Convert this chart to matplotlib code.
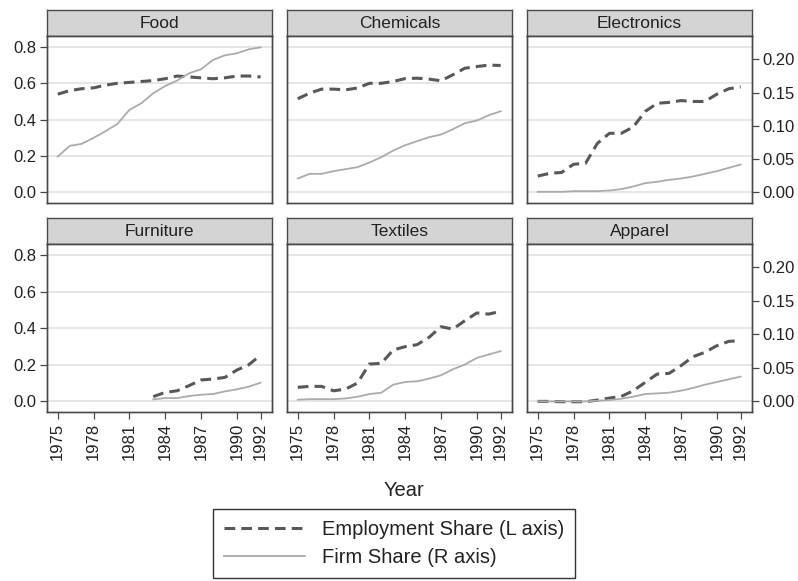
import numpy as np
import matplotlib
matplotlib.use("Agg")
import matplotlib.pyplot as plt

plt.rcParams['font.family'] = ['Liberation Sans', 'DejaVu Sans']

years = list(range(1975, 1993))
nan = np.nan

industries = ["Food", "Chemicals", "Electronics", "Furniture", "Textiles", "Apparel"]

# employment share (left axis)
food_emp = [0.54, 0.56, 0.57, 0.575, 0.59, 0.60, 0.605, 0.61, 0.615, 0.625, 0.64, 0.635, 0.63, 0.625, 0.63, 0.64, 0.64, 0.635]
chem_emp = [0.515, 0.546, 0.568, 0.568, 0.564, 0.574, 0.60, 0.60, 0.61, 0.626, 0.628, 0.623, 0.614, 0.647, 0.683, 0.692, 0.70, 0.698]
elec_emp = [0.09, 0.105, 0.11, 0.155, 0.16, 0.27, 0.325, 0.325, 0.36, 0.445, 0.49, 0.495, 0.505, 0.50, 0.50, 0.54, 0.57, 0.58]
furn_emp = [nan] * 8 + [0.026, 0.049, 0.058, 0.086, 0.117, 0.122, 0.131, 0.171, 0.20, 0.253]
text_emp = [0.077, 0.082, 0.082, 0.058, 0.067, 0.10, 0.204, 0.208, 0.281, 0.299, 0.31, 0.35, 0.408, 0.395, 0.441, 0.483, 0.477, 0.492]
app_emp = [0.0, 0.0, -0.002, -0.002, -0.002, 0.007, 0.018, 0.027, 0.058, 0.104, 0.149, 0.153, 0.195, 0.244, 0.268, 0.304, 0.328, 0.332]

# firm share (right axis)
food_firm = [0.054, 0.070, 0.073, 0.082, 0.092, 0.103, 0.124, 0.134, 0.149, 0.160, 0.168, 0.179, 0.185, 0.199, 0.206, 0.209, 0.215, 0.218]
chem_firm = [0.021, 0.028, 0.028, 0.032, 0.035, 0.038, 0.045, 0.053, 0.063, 0.071, 0.077, 0.083, 0.087, 0.095, 0.104, 0.108, 0.116, 0.122]
elec_firm = [0.001, 0.001, 0.001, 0.002, 0.002, 0.002, 0.003, 0.005, 0.009, 0.014, 0.016, 0.019, 0.021, 0.024, 0.028, 0.032, 0.037, 0.042]
furn_firm = [nan] * 8 + [0.003, 0.005, 0.005, 0.008, 0.010, 0.011, 0.015, 0.018, 0.022, 0.028]
text_firm = [0.0025, 0.0034, 0.0034, 0.0034, 0.0044, 0.0069, 0.011, 0.013, 0.025, 0.029, 0.030, 0.034, 0.039, 0.048, 0.055, 0.065, 0.070, 0.075]
app_firm = [0.0, 0.0, 0.0, 0.0, 0.0, 0.001, 0.002, 0.004, 0.007, 0.011, 0.012, 0.013, 0.016, 0.020, 0.025, 0.029, 0.033, 0.037]

emp_series = [food_emp, chem_emp, elec_emp, furn_emp, text_emp, app_emp]
firm_series = [food_firm, chem_firm, elec_firm, furn_firm, text_firm, app_firm]

x_ticks = [1975, 1978, 1981, 1984, 1987, 1990, 1992]
left_ticks = [0.0, 0.2, 0.4, 0.6, 0.8]
right_ticks = [0.00, 0.05, 0.10, 0.15, 0.20]

W, H = 798, 581
fig = plt.figure(figsize=(W / 100, H / 100), dpi=100)

edge = "#4a4a4a"
emp_color = "#585858"
firm_color = "#ababab"

col_x = [47, 287, 527]
panel_w = 225
# (strip top, plot top, plot bottom) in pixels
row_y = [(10, 36, 203), (218, 244, 412)]


def px_box(x0, y0, x1, y1):
    return [x0 / W, 1 - y1 / H, (x1 - x0) / W, (y1 - y0) / H]


for i, name in enumerate(industries):
    r, c = divmod(i, 3)
    st, top, bot = row_y[r]
    x0 = col_x[c]

    # strip title
    sax = fig.add_axes(px_box(x0, st, x0 + panel_w, top))
    sax.set_facecolor("#d4d4d4")
    sax.set_xticks([])
    sax.set_yticks([])
    for s in sax.spines.values():
        s.set_color(edge)
        s.set_linewidth(1.0)
    sax.text(0.5, 0.47, name, ha="center", va="center", fontsize=12.5, color="#222222")

    ax = fig.add_axes(px_box(x0, top, x0 + panel_w, bot))
    ax2 = ax.twinx()

    ax.plot(years, emp_series[i], color=emp_color, lw=2.2, linestyle=(0, (3.5, 2.0)),
            label="Employment Share (L axis)")
    ax2.plot(years, firm_series[i], color=firm_color, lw=1.3, label="Firm Share (R axis)")

    ax.set_xlim(1974.1, 1992.95)
    ax.set_ylim(-0.058, 0.86)
    ax2.set_ylim(-0.0158, 0.235)

    ax.set_yticks(left_ticks)
    ax2.set_yticks(right_ticks)
    ax.set_xticks(x_ticks)
    ax.grid(axis="y", color="#e6e6e6", lw=1.4)
    ax.set_axisbelow(True)

    for a in (ax, ax2):
        for s in a.spines.values():
            s.set_color(edge)
            s.set_linewidth(1.0)

    ax.tick_params(axis="both", colors=edge, labelcolor="#222222", labelsize=12,
                   length=5, width=0.9, direction="out", pad=2.5)
    ax2.tick_params(axis="y", colors=edge, labelcolor="#222222", labelsize=12,
                    length=5, width=0.9, direction="out", pad=2.5)

    if c == 0:
        ax.set_yticklabels(["%.1f" % v for v in left_ticks])
    else:
        ax.tick_params(axis="y", left=False, labelleft=False)

    if c == 2:
        ax2.set_yticklabels(["%.2f" % v for v in right_ticks])
    else:
        ax2.tick_params(axis="y", right=False, labelright=False)

    if r == 1:
        ax.set_xticklabels([str(v) for v in x_ticks], rotation=90)
    else:
        ax.tick_params(axis="x", bottom=False, labelbottom=False)

    if i == 0:
        h1, l1 = ax.get_legend_handles_labels()
        h2, l2 = ax2.get_legend_handles_labels()

fig.text(404 / W, 1 - 490 / H, "Year", ha="center", va="center", fontsize=14.5, color="#222222")

leg = fig.legend(h1 + h2, l1 + l2, loc="center", bbox_to_anchor=(394 / W, 1 - 543.5 / H),
                 fontsize=14.5, handlelength=4.0, handletextpad=0.85, fancybox=False,
                 framealpha=1, edgecolor="#333333", borderpad=0.55, labelspacing=0.45,
                 borderaxespad=0)
leg.get_frame().set_linewidth(1.0)
for t in leg.get_texts():
    t.set_color("#222222")

fig.savefig("out.png", dpi=100)
